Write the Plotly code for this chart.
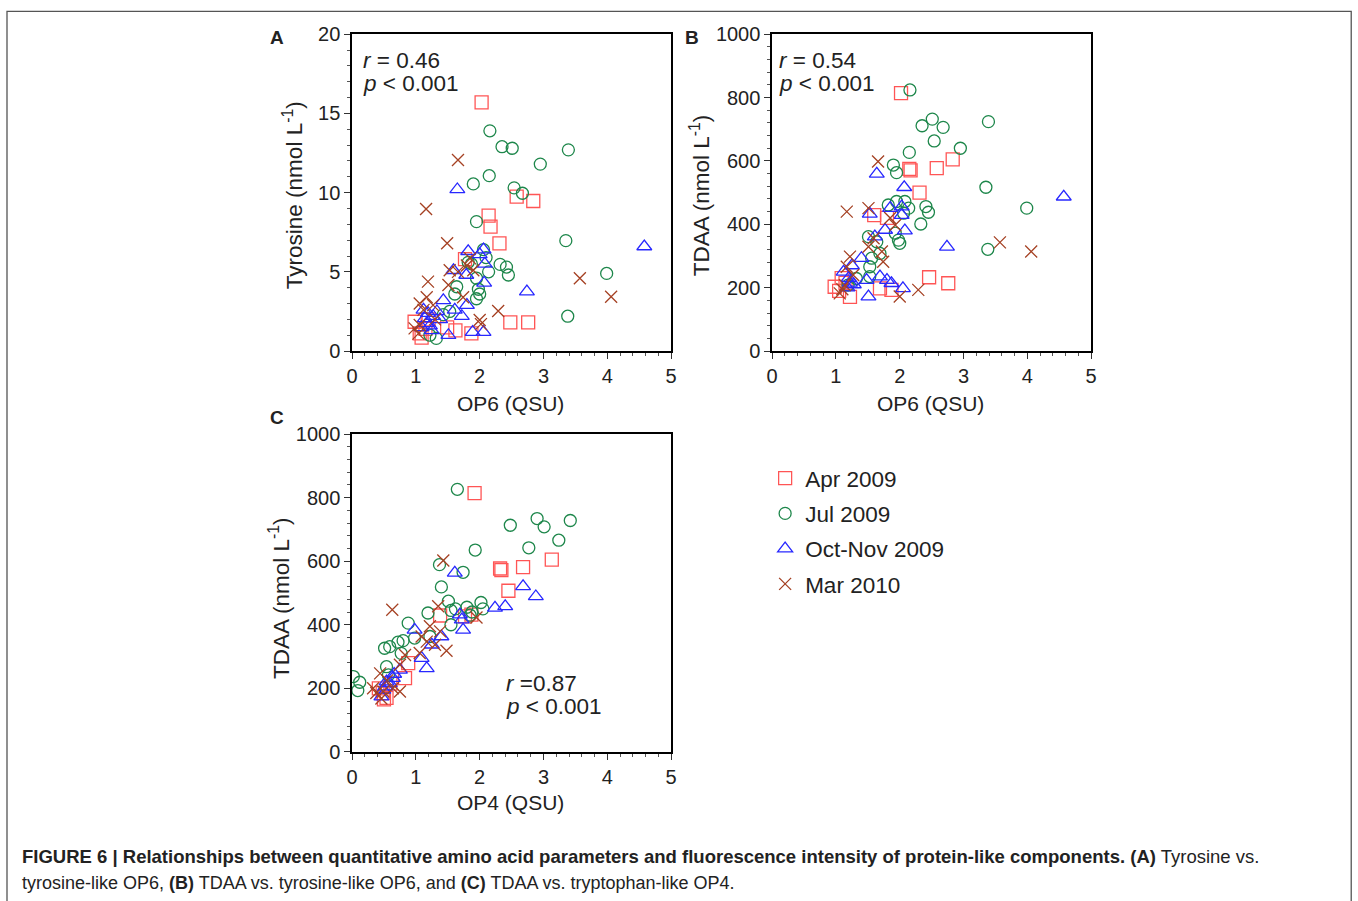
import plotly.graph_objects as go

# ---------------- data ----------------
series_names = ["Apr 2009", "Jul 2009", "Oct-Nov 2009", "Mar 2010"]

# Panel A: OP6 (QSU) vs Tyrosine (nmol L-1)
A_apr_x = [2.03, 2.58, 2.84, 2.14, 2.17, 2.31, 2.48, 2.76, 1.87, 0.98, 1.06, 1.09, 1.49, 1.77, 1.15, 1.20, 1.62]
A_apr_y = [15.7, 9.75, 9.47, 8.55, 7.85, 6.8, 1.81, 1.81, 1.12, 1.85, 1.12, 0.85, 1.5, 5.8, 1.4, 2.0, 1.3]
A_jul_x = [2.16, 2.35, 2.51, 3.39, 2.95, 2.15, 1.90, 2.54, 2.67, 1.95, 3.35, 3.99, 3.38, 2.32, 2.42, 2.45,
           2.14, 2.06, 1.87, 1.95, 1.95, 2.00, 1.98, 1.64, 1.61, 1.53, 1.43, 1.32, 1.22, 1.82, 2.10]
A_jul_y = [13.9, 12.9, 12.8, 12.7, 11.8, 11.07, 10.55, 10.3, 9.96, 8.17, 6.97, 4.9, 2.2, 5.47, 5.3, 4.8,
           5.0, 6.4, 5.5, 4.6, 3.3, 3.6, 3.9, 4.06, 3.6, 2.5, 2.3, 0.8, 1.0, 5.6, 5.9]
A_oct_x = [1.65, 4.58, 2.74, 2.06, 1.82, 2.08, 2.07, 1.79, 1.59, 1.89, 2.06, 1.51, 1.43, 1.80, 1.61, 1.72,
           1.33, 1.22, 1.14, 1.17, 1.09, 1.27, 1.19, 1.25, 1.12, 2.00, 1.38]
A_oct_y = [10.2, 6.6, 3.75, 6.4, 6.3, 5.5, 4.3, 4.8, 5.1, 1.2, 1.2, 1.0, 3.2, 2.9, 2.6, 2.2,
           2.5, 1.6, 2.06, 1.75, 1.5, 2.2, 2.4, 1.3, 2.6, 6.1, 2.0]
A_mar_x = [1.66, 1.16, 1.49, 3.57, 4.06, 2.29, 2.00, 1.53, 1.66, 1.80, 1.90, 1.85, 1.19, 1.51, 1.17, 1.06,
           1.27, 0.98, 1.06, 1.04, 1.74, 1.30, 1.12, 2.02]
A_mar_y = [12.06, 8.97, 6.8, 4.6, 3.43, 2.53, 1.96, 5.1, 5.0, 5.4, 5.1, 5.85, 4.38, 4.17, 3.4, 3.0,
           2.9, 1.43, 1.64, 1.1, 3.4, 2.0, 2.6, 1.7]

# Panel B: OP6 (QSU) vs TDAA (nmol L-1)
B_apr_x = [2.02, 2.15, 2.17, 2.58, 2.83, 2.31, 1.60, 2.46, 2.76, 0.98, 1.22, 1.69, 1.87, 1.09, 1.15, 1.05, 1.80]
B_apr_y = [814, 575, 570, 577, 605, 500, 429, 233, 214, 203, 171, 198, 193, 230, 215, 190, 420]
B_jul_x = [2.16, 2.51, 2.35, 2.68, 3.39, 2.95, 2.54, 2.15, 1.90, 1.95, 3.35, 3.99, 3.38, 2.41, 2.45, 2.33,
           1.82, 1.95, 2.08, 2.14, 2.06, 1.93, 1.98, 2.00, 1.51, 1.64, 1.56, 1.69, 1.53, 1.53, 1.32, 1.19]
B_jul_y = [824, 732, 711, 706, 724, 640, 663, 627, 587, 563, 517, 451, 321, 456, 438, 401,
           461, 472, 472, 451, 435, 372, 350, 340, 361, 345, 293, 308, 266, 235, 229, 208]
B_oct_x = [1.64, 2.07, 4.57, 2.74, 2.05, 1.87, 1.80, 1.69, 1.51, 1.48, 1.53, 1.85, 2.03, 2.03, 1.77, 2.08,
           1.61, 1.40, 1.25, 1.20, 1.18, 1.28, 1.12, 1.22]
B_oct_y = [559, 517, 487, 329, 198, 214, 224, 235, 172, 224, 433, 451, 456, 429, 382, 380,
           361, 293, 270, 230, 200, 210, 250, 215]
B_mar_x = [1.66, 1.17, 1.51, 3.57, 4.06, 2.29, 2.00, 1.93, 1.59, 1.51, 1.72, 1.74, 1.22, 1.17, 1.27, 1.06,
           1.14, 1.85, 1.10]
B_mar_y = [598, 440, 451, 343, 314, 193, 172, 398, 356, 329, 314, 282, 298, 266, 240, 182,
           208, 420, 195]

# Panel C: OP4 (QSU) vs TDAA (nmol L-1)
C_apr_x = [1.92, 2.32, 2.34, 2.68, 3.13, 2.45, 1.38, 1.77, 1.87, 0.88, 0.83, 0.42, 0.48, 0.54, 0.50, 0.60]
C_apr_y = [814, 577, 572, 581, 605, 507, 429, 426, 432, 279, 232, 200, 185, 170, 165, 215]
C_jul_x = [1.65, 2.48, 2.90, 3.01, 3.42, 3.24, 2.77, 1.93, 1.37, 1.74, 1.40, 1.51, 1.19, 0.88, 1.55, 1.62,
           1.80, 1.88, 2.02, 2.05, 1.85, 1.55, 0.72, 0.80, 0.59, 0.51, 0.77, 0.98, 1.22, 0.54, 0.02, 0.12,
           0.09, 0.57]
C_jul_y = [826, 713, 734, 708, 728, 666, 642, 635, 589, 565, 519, 474, 437, 405, 445, 450,
           455, 440, 470, 450, 430, 400, 345, 350, 331, 326, 310, 358, 363, 268, 237, 219,
           193, 242]
C_oct_x = [1.61, 2.68, 2.88, 2.24, 2.40, 1.74, 1.69, 1.72, 0.98, 1.40, 1.25, 1.09, 1.17, 0.75, 0.64, 0.59,
           0.49, 0.46, 0.54, 0.66, 0.52]
C_oct_y = [563, 521, 489, 453, 458, 384, 432, 416, 384, 363, 337, 295, 263, 258, 232, 216,
           195, 174, 221, 245, 205]
C_mar_x = [1.43, 0.63, 1.35, 1.95, 1.22, 1.38, 1.09, 1.17, 1.48, 1.30, 1.06, 0.83, 0.75, 0.44, 0.33, 0.38,
           0.49, 0.64, 0.75, 0.46, 0.55]
C_mar_y = [602, 447, 458, 423, 395, 379, 363, 347, 318, 337, 311, 305, 274, 247, 200, 185,
           190, 200, 190, 168, 225]

x_ticks = [0, 1, 2, 3, 4, 5]
yA_ticks = [0, 5, 10, 15, 20]
yBC_ticks = [0, 200, 400, 600, 800, 1000]

# ---------------- styling ----------------
W, H = 1358, 901
FONT = "Liberation Sans, Arial, sans-serif"
TXT = "#222222"
colors = ["rgb(255,85,85)", "rgb(30,135,75)", "rgb(40,40,255)", "rgb(165,65,35)"]
symbols = ["square-open", "circle-open", "triangle-up-open", "x-thin-open"]
sizes = [13, 12, 13, 12]

# the photographed page shows a small extra border around the figure;
# map target picture pixels to figure pixels
SX, OX = 0.991, 6.0
SY, OY = 0.976, 10.8


def px(t):
    return ((t - OX) / SX) / W


def py(t):
    return 1 - ((t - OY) / SY) / H


fig = go.Figure()

panels = [
    ("x", "y", [(A_apr_x, A_apr_y), (A_jul_x, A_jul_y), (A_oct_x, A_oct_y), (A_mar_x, A_mar_y)]),
    ("x2", "y2", [(B_apr_x, B_apr_y), (B_jul_x, B_jul_y), (B_oct_x, B_oct_y), (B_mar_x, B_mar_y)]),
    ("x3", "y3", [(C_apr_x, C_apr_y), (C_jul_x, C_jul_y), (C_oct_x, C_oct_y), (C_mar_x, C_mar_y)]),
]
for pi, (xa, ya, data) in enumerate(panels):
    for si, (xs, ys) in enumerate(data):
        fig.add_trace(go.Scatter(
            x=xs, y=ys, mode="markers", xaxis=xa, yaxis=ya,
            name=series_names[si], legendgroup=series_names[si],
            showlegend=(pi == 0),
            marker=dict(symbol=symbols[si], size=sizes[si], color=colors[si],
                        line=dict(width=1.3, color=colors[si])),
        ))

axis_common = dict(
    showline=True, linecolor="black", linewidth=1.5, mirror=True,
    ticks="outside", ticklen=6, tickwidth=1, tickcolor="#333",
    showgrid=False, zeroline=False,
    tickfont=dict(family=FONT, size=20, color=TXT),
)

domA_x = [px(352), px(671)]
domB_x = [px(772), px(1091)]
dom_top_y = [py(351), py(34)]
dom_bot_y = [py(752), py(434)]

fig.update_layout(
    xaxis=dict(domain=domA_x, range=[0, 5], tickvals=x_ticks, anchor="y",
               minor=dict(ticks="outside", ticklen=3, dtick=0.2, tickcolor="#555"), **axis_common),
    yaxis=dict(domain=dom_top_y, range=[0, 20], tickvals=yA_ticks, anchor="x",
               minor=dict(ticks="outside", ticklen=3, dtick=1, tickcolor="#555"), **axis_common),
    xaxis2=dict(domain=domB_x, range=[0, 5], tickvals=x_ticks, anchor="y2",
                minor=dict(ticks="outside", ticklen=3, dtick=0.2, tickcolor="#555"), **axis_common),
    yaxis2=dict(domain=dom_top_y, range=[0, 1000], tickvals=yBC_ticks, anchor="x2",
                minor=dict(ticks="outside", ticklen=3, dtick=40, tickcolor="#555"), **axis_common),
    xaxis3=dict(domain=domA_x, range=[0, 5], tickvals=x_ticks, anchor="y3",
                minor=dict(ticks="outside", ticklen=3, dtick=0.2, tickcolor="#555"), **axis_common),
    yaxis3=dict(domain=dom_bot_y, range=[0, 1000], tickvals=yBC_ticks, anchor="x3",
                minor=dict(ticks="outside", ticklen=3, dtick=40, tickcolor="#555"), **axis_common),
)

annotations = []


def ann(text, x, y, size=20, xanchor="center", angle=0, yanchor="middle"):
    annotations.append(dict(text=text, x=px(x), y=py(y), xref="paper", yref="paper",
                            xanchor=xanchor, yanchor=yanchor, showarrow=False, textangle=angle,
                            font=dict(family=FONT, size=size, color=TXT)))


# axis titles
ann("Tyrosine (nmol L<sup>-1</sup>)", 293, 195, size=22.5, angle=-90)
ann("TDAA (nmol L<sup>-1</sup>)", 700, 195, size=22.5, angle=-90)
ann("TDAA (nmol L<sup>-1</sup>)", 279, 598, size=22.5, angle=-90)
ann("OP6 (QSU)", 510, 403, size=21)
ann("OP6 (QSU)", 930, 403, size=21)
ann("OP4 (QSU)", 510, 803, size=21)
# panel letters
ann("<b>A</b>", 277, 37, size=19)
ann("<b>B</b>", 692, 37, size=19)
ann("<b>C</b>", 277, 417, size=19)
# statistics
ann("<i>r</i> = 0.46", 361, 60, size=22.5, xanchor="left")
ann("<i>p</i> < 0.001", 361, 83, size=22.5, xanchor="left")
ann("<i>r</i> = 0.54", 777, 60, size=22.5, xanchor="left")
ann("<i>p</i> < 0.001", 777, 83, size=22.5, xanchor="left")
ann("<i>r</i> =0.87", 504, 684, size=22.5, xanchor="left")
ann("<i>p</i> < 0.001", 504, 707, size=22.5, xanchor="left")
# caption
ann("<b>FIGURE 6 | Relationships between quantitative amino acid parameters and fluorescence intensity "
    "of protein-like components. (A)</b> Tyrosine vs.", 20, 857, size=18.5, xanchor="left")
ann("tyrosine-like OP6, <b>(B)</b> TDAA vs. tyrosine-like OP6, and <b>(C)</b> TDAA vs. tryptophan-like OP4.",
    20, 883, size=18, xanchor="left")

fig.update_layout(
    annotations=annotations,
    width=W, height=H,
    margin=dict(l=0, r=0, t=0, b=0),
    paper_bgcolor="white", plot_bgcolor="white",
    font=dict(family=FONT, color=TXT),
    showlegend=True,
    legend=dict(x=px(765), y=py(457), xanchor="left", yanchor="top",
                font=dict(family=FONT, size=22.5, color=TXT),
                bgcolor="rgba(0,0,0,0)", tracegroupgap=3, itemwidth=30),
    shapes=[dict(type="rect", xref="paper", yref="paper",
                 x0=px(7), x1=px(1351), y0=-0.02, y1=min(py(10), 0.9995),
                 line=dict(color="#555555", width=1.3), fillcolor="rgba(0,0,0,0)")],
)

fig.write_html(
    "out.html",
    config={"displayModeBar": False},
    post_script="document.body.style.margin='0';document.body.style.padding='0';"
                "document.body.style.overflow='hidden';"
                "document.documentElement.style.overflow='hidden';",
)
